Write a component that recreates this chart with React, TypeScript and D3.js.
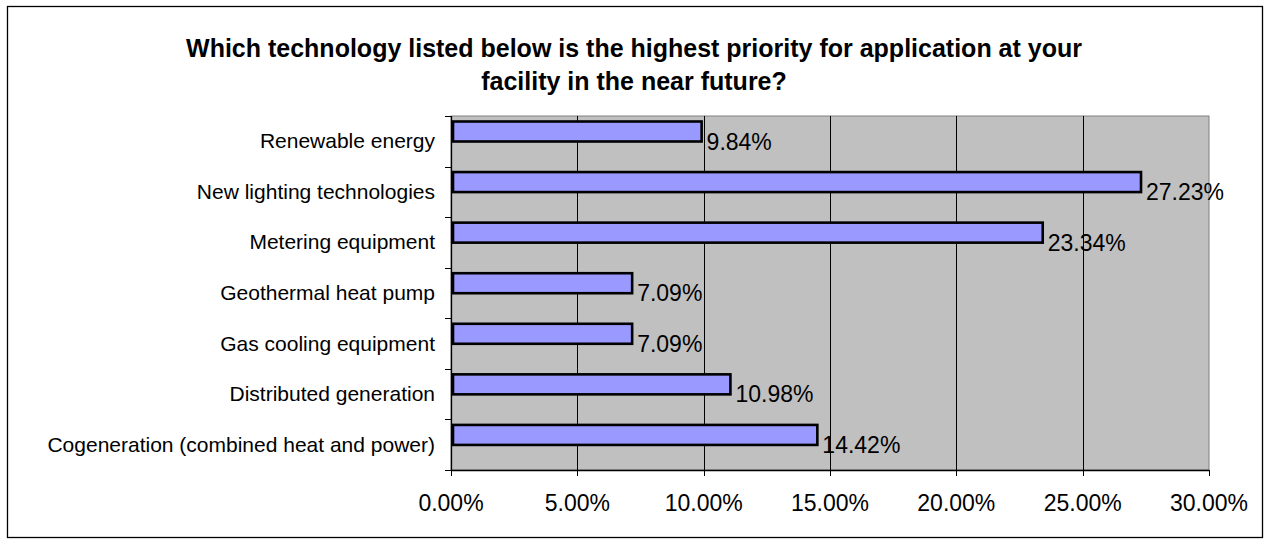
import React, { useRef, useEffect } from 'react';
import { select, scaleLinear, scaleBand, range } from 'd3';

const categories = [
  'Renewable energy',
  'New lighting technologies',
  'Metering equipment',
  'Geothermal heat pump',
  'Gas cooling equipment',
  'Distributed generation',
  'Cogeneration (combined heat and power)',
];
const values = [9.84, 27.23, 23.34, 7.09, 7.09, 10.98, 14.42];
const xTicks = [0, 5, 10, 15, 20, 25, 30];
const titleLines = [
  'Which technology listed below is the highest priority for application at your',
  'facility in the near future?',
];

const W = 1265;
const H = 540;
const FONT = 'Arial, "Liberation Sans", sans-serif';

function App() {
  const svgRef = useRef<SVGSVGElement>(null);

  useEffect(() => {
    const svg = select(svgRef.current);
    svg.selectAll('*').remove();

    const plot = { left: 451, right: 1209, top: 116, bottom: 470 };

    const x = scaleLinear().domain([0, 30]).range([plot.left, plot.right]);
    const y = scaleBand().domain(categories).range([plot.top, plot.bottom]);
    const step = y.step();
    const barH = 20;

    // outer frame
    svg.append('rect')
      .attr('x', 7.5).attr('y', 6.5)
      .attr('width', 1255).attr('height', 531)
      .attr('fill', 'white').attr('stroke', '#000').attr('stroke-width', 1.3);

    // title
    svg.append('g')
      .selectAll('text')
      .data(titleLines)
      .join('text')
      .attr('x', 634)
      .attr('y', (d, i) => 57 + i * 33)
      .attr('text-anchor', 'middle')
      .attr('font-family', FONT)
      .attr('font-weight', 'bold')
      .attr('font-size', 25)
      .text(d => d);

    // plot background
    svg.append('rect')
      .attr('x', plot.left).attr('y', plot.top)
      .attr('width', plot.right - plot.left).attr('height', plot.bottom - plot.top)
      .attr('fill', '#c0c0c0').attr('stroke', '#808080').attr('stroke-width', 1);

    // vertical gridlines
    svg.append('g')
      .selectAll('line')
      .data(xTicks.slice(1, -1))
      .join('line')
      .attr('x1', d => Math.round(x(d)) + 0.5).attr('x2', d => Math.round(x(d)) + 0.5)
      .attr('y1', plot.top).attr('y2', plot.bottom)
      .attr('stroke', '#000').attr('stroke-width', 1);

    // bars
    svg.append('g')
      .selectAll('rect')
      .data(values)
      .join('rect')
      .attr('x', x(0) + 2)
      .attr('y', (d, i) => y(categories[i]) + 5.5)
      .attr('width', d => x(d) - x(0))
      .attr('height', barH)
      .attr('fill', '#9999ff')
      .attr('stroke', '#000')
      .attr('stroke-width', 2.6);

    // data labels
    svg.append('g')
      .selectAll('text')
      .data(values)
      .join('text')
      .attr('x', d => x(d) + 7)
      .attr('y', (d, i) => y(categories[i]) + 5.5 + barH + 8)
      .attr('font-family', FONT)
      .attr('font-size', 23)
      .text(d => d.toFixed(2) + '%');

    // y axis
    svg.append('line')
      .attr('x1', plot.left + 0.5).attr('x2', plot.left + 0.5)
      .attr('y1', plot.top).attr('y2', plot.bottom)
      .attr('stroke', '#000').attr('stroke-width', 1.3);
    svg.append('g')
      .selectAll('line')
      .data(range(categories.length + 1))
      .join('line')
      .attr('x1', plot.left - 6).attr('x2', plot.left)
      .attr('y1', i => Math.round(plot.top + i * step) + 0.5)
      .attr('y2', i => Math.round(plot.top + i * step) + 0.5)
      .attr('stroke', '#000');
    svg.append('g')
      .selectAll('text')
      .data(categories)
      .join('text')
      .attr('x', 435)
      .attr('y', d => y(d) + step / 2 + 7)
      .attr('text-anchor', 'end')
      .attr('font-family', FONT)
      .attr('font-size', 21)
      .text(d => d);

    // x axis
    svg.append('line')
      .attr('x1', plot.left).attr('x2', plot.right)
      .attr('y1', plot.bottom + 0.5).attr('y2', plot.bottom + 0.5)
      .attr('stroke', '#000').attr('stroke-width', 1.3);
    svg.append('g')
      .selectAll('line')
      .data(xTicks)
      .join('line')
      .attr('x1', d => Math.round(x(d)) + 0.5).attr('x2', d => Math.round(x(d)) + 0.5)
      .attr('y1', plot.bottom).attr('y2', plot.bottom + 6)
      .attr('stroke', '#000');
    svg.append('g')
      .selectAll('text')
      .data(xTicks)
      .join('text')
      .attr('x', d => x(d))
      .attr('y', plot.bottom + 41)
      .attr('text-anchor', 'middle')
      .attr('font-family', FONT)
      .attr('font-size', 23)
      .text(d => d.toFixed(2) + '%');
  }, []);

  return (
    <div style={{ position: 'absolute', left: 0, top: 0 }}>
      <svg ref={svgRef} width={W} height={H} style={{ display: 'block' }}></svg>
    </div>
  );
}

export default App;
